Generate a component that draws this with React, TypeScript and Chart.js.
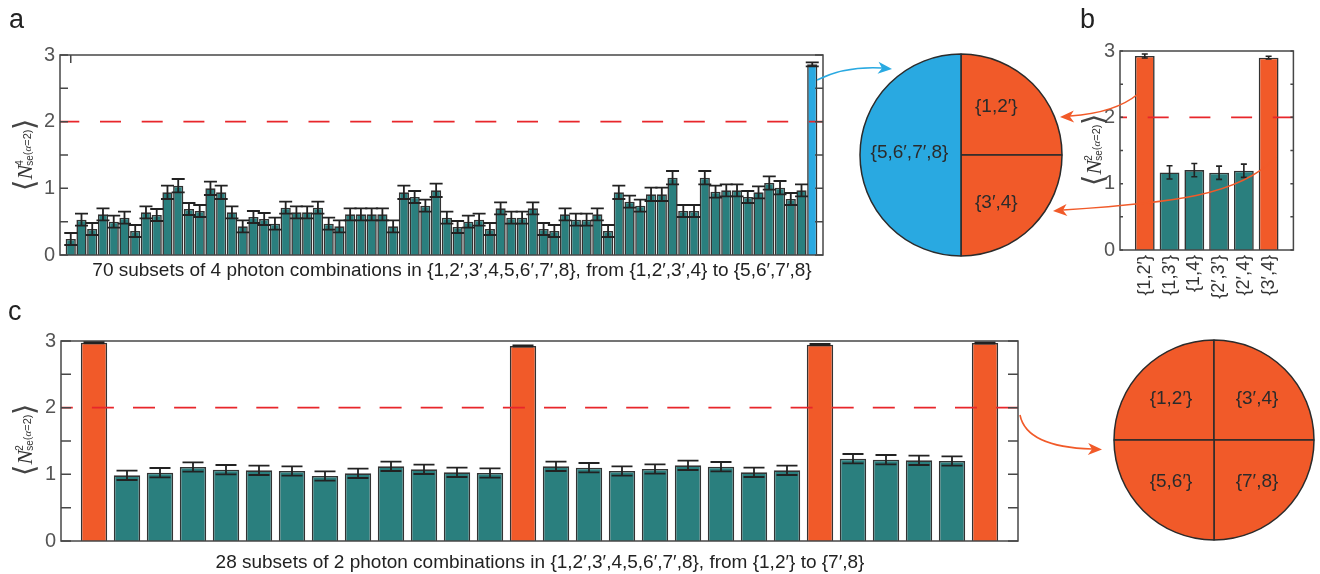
import React, { useEffect, useRef } from 'react';
import { Chart, registerables } from 'chart.js';
Chart.register(...registerables);

// ---------------- DATA ----------------
const PHOTONS = ['1', '2′', '3′', '4', '5', '6′', '7′', '8'];

function combos(k: number): string[] {
  const out: string[] = [];
  const rec = (start: number, acc: string[]) => {
    if (acc.length === k) { out.push('{' + acc.join(',') + '}'); return; }
    for (let i = start; i < PHOTONS.length; i++) rec(i + 1, [...acc, PHOTONS[i]]);
  };
  rec(0, []);
  return out;
}

// Panel a: 70 subsets of 4 photons
const A_LABELS = combos(4);
const A_VALUES = [
  0.24, 0.53, 0.39, 0.61, 0.50, 0.56, 0.36, 0.64, 0.60, 0.94,
  1.04, 0.69, 0.66, 1.00, 0.94, 0.64, 0.43, 0.57, 0.54, 0.47,
  0.71, 0.64, 0.64, 0.71, 0.47, 0.43, 0.61, 0.61, 0.61, 0.61,
  0.43, 0.94, 0.87, 0.74, 0.97, 0.56, 0.42, 0.50, 0.53, 0.39,
  0.70, 0.56, 0.56, 0.70, 0.39, 0.36, 0.61, 0.53, 0.53, 0.61,
  0.36, 0.94, 0.80, 0.74, 0.91, 0.91, 1.16, 0.66, 0.66, 1.16,
  0.95, 0.97, 0.97, 0.87, 0.94, 1.08, 1.01, 0.84, 0.97, 2.86,
];
const A_ERRORS = [
  0.09, 0.09, 0.09, 0.09, 0.09, 0.09, 0.09, 0.09, 0.09, 0.10,
  0.10, 0.09, 0.09, 0.10, 0.10, 0.09, 0.09, 0.09, 0.09, 0.09,
  0.09, 0.09, 0.09, 0.09, 0.09, 0.09, 0.09, 0.09, 0.09, 0.09,
  0.09, 0.10, 0.09, 0.09, 0.10, 0.09, 0.09, 0.09, 0.09, 0.09,
  0.09, 0.09, 0.09, 0.09, 0.09, 0.09, 0.09, 0.09, 0.09, 0.09,
  0.09, 0.10, 0.09, 0.09, 0.10, 0.10, 0.10, 0.09, 0.09, 0.10,
  0.09, 0.09, 0.09, 0.09, 0.09, 0.10, 0.10, 0.09, 0.09, 0.03,
];
const A_HIGHLIGHT = [69];

// Panel b
const B_LABELS = ['{1,2′}', '{1,3′}', '{1,4}', '{2′,3′}', '{2′,4}', '{3′,4}'];
const B_VALUES = [2.925, 1.17, 1.205, 1.165, 1.195, 2.90];
const B_ERRORS = [0.03, 0.10, 0.10, 0.10, 0.10, 0.02];
const B_HIGHLIGHT = [0, 5];

// Panel c: 28 subsets of 2 photons
const C_LABELS = combos(2);
const C_VALUES = [
  2.975, 0.985, 1.025, 1.11, 1.07, 1.06, 1.05, 0.975, 1.015, 1.12,
  1.075, 1.03, 1.02, 2.925, 1.12, 1.10, 1.05, 1.08, 1.135, 1.115,
  1.03, 1.06, 2.945, 1.235, 1.22, 1.21, 1.20, 2.97,
];
const C_ERRORS = [
  0.01, 0.07, 0.07, 0.07, 0.07, 0.07, 0.07, 0.07, 0.07, 0.07,
  0.07, 0.07, 0.07, 0.01, 0.07, 0.07, 0.07, 0.07, 0.07, 0.07,
  0.07, 0.07, 0.01, 0.07, 0.07, 0.07, 0.07, 0.01,
];
const C_HIGHLIGHT = [0, 13, 22, 27];

// Partition diagrams (photon counts per block)
const PIE1_LABELS = ['{1,2′}', '{3′,4}', '{5,6′,7′,8}'];
const PIE1_VALUES = [2, 2, 4];
const PIE2_LABELS = ['{1,2′}', '{3′,4}', '{7′,8}', '{5,6′}'];
const PIE2_VALUES = [2, 2, 2, 2];

const Y_TICKS = [0, 1, 2, 3];
const THRESHOLD = 2;

// ---------------- STYLE ----------------
const TEAL = '#2A7F7E';
const ORANGE = '#F15A29';
const BLUE = '#29A9E1';
const FONT = '"Liberation Sans", Arial, Helvetica, sans-serif';

const decorPlugin = {
  id: 'decor',
  afterDatasetsDraw(chart: any, _a: any, opts: any) {
    const { ctx, chartArea: ca, scales } = chart;
    const y = scales.y;
    // reference dashed line
    ctx.save();
    ctx.beginPath();
    ctx.rect(ca.left, ca.top, ca.right - ca.left, ca.bottom - ca.top);
    ctx.clip();
    ctx.strokeStyle = '#E8262B';
    ctx.lineWidth = 1.6;
    ctx.setLineDash(opts.dash);
    ctx.lineDashOffset = opts.dashOffset;
    const yy = y.getPixelForValue(THRESHOLD);
    ctx.beginPath();
    ctx.moveTo(ca.left, yy);
    ctx.lineTo(ca.right, yy);
    ctx.stroke();
    ctx.restore();
    // error bars
    const ds = chart.data.datasets[0];
    const meta = chart.getDatasetMeta(0);
    ctx.save();
    ctx.strokeStyle = '#222';
    ctx.lineWidth = opts.errWidth;
    const cw = opts.capWidth;
    meta.data.forEach((bar: any, i: number) => {
      const v = ds.data[i];
      const e = ds.errors[i];
      if (v == null || e == null) return;
      const x = bar.x;
      const t = y.getPixelForValue(v + e);
      const b = y.getPixelForValue(v - e);
      ctx.beginPath();
      ctx.moveTo(x, t); ctx.lineTo(x, b);
      ctx.moveTo(x - cw / 2, t); ctx.lineTo(x + cw / 2, t);
      ctx.moveTo(x - cw / 2, b); ctx.lineTo(x + cw / 2, b);
      ctx.stroke();
    });
    ctx.restore();
  },
  afterDraw(chart: any, _a: any, opts: any) {
    const { ctx, chartArea: ca, scales } = chart;
    const y = scales.y;
    const x = scales.x;
    ctx.save();
    ctx.strokeStyle = '#474747';
    ctx.lineWidth = 1.5;
    ctx.strokeRect(ca.left, ca.top, ca.right - ca.left, ca.bottom - ca.top);
    ctx.beginPath();
    y.ticks.forEach((t: any) => {
      const py = y.getPixelForValue(t.value);
      ctx.moveTo(ca.left, py); ctx.lineTo(ca.left + opts.tickLen, py);
      ctx.moveTo(ca.right, py); ctx.lineTo(ca.right - opts.tickLen, py);
    });
    (opts.topTicks || []).forEach((idx: number) => {
      const px = x.getPixelForValue(idx);
      ctx.moveTo(px, ca.top); ctx.lineTo(px, ca.top + opts.tickLen);
    });
    ctx.stroke();
    ctx.restore();
  },
};

const pieLabelPlugin = {
  id: 'pieLabels',
  afterDatasetsDraw(chart: any, _a: any, opts: any) {
    const { ctx } = chart;
    const meta = chart.getDatasetMeta(0);
    ctx.save();
    ctx.fillStyle = '#2b2b2b';
    ctx.font = `19px ${FONT}`;
    ctx.textAlign = 'center';
    ctx.textBaseline = 'middle';
    meta.data.forEach((arc: any, i: number) => {
      const p = arc.getProps(['x', 'y', 'outerRadius'], true);
      const [dx, dy] = opts.offsets[i];
      ctx.fillText(chart.data.labels[i], p.x + dx * p.outerRadius, p.y + dy * p.outerRadius);
    });
    ctx.restore();
  },
};

type BarSpec = {
  labels: string[];
  values: number[];
  errors: number[];
  highlight: number[];
  hiColor: string;
  width: number;
  height: number;
  padTop: number;
  padRight: number;
  yWidth: number;
  xHeight: number;
  barPct: number;
  showX: boolean;
  decor: any;
};

function BarPanel({ spec, left, top }: { spec: BarSpec; left: number; top: number }) {
  const ref = useRef<HTMLCanvasElement | null>(null);
  useEffect(() => {
    if (!ref.current) return;
    const colors = spec.values.map((_, i) => (spec.highlight.includes(i) ? spec.hiColor : TEAL));
    const chart = new Chart(ref.current, {
      type: 'bar',
      data: {
        labels: ['', ...spec.labels, ''],
        datasets: [
          {
            data: [null, ...spec.values, null],
            errors: [null, ...spec.errors, null],
            backgroundColor: ['#0000', ...colors, '#0000'],
            borderColor: '#333',
            borderWidth: 1.6,
            categoryPercentage: 1,
            barPercentage: spec.barPct,
          } as any,
        ],
      },
      options: {
        animation: false,
        responsive: false,
        maintainAspectRatio: false,
        layout: { padding: { top: spec.padTop, right: spec.padRight, left: 0, bottom: 0 } },
        plugins: { legend: { display: false }, decor: spec.decor } as any,
        scales: {
          x: {
            type: 'category',
            offset: false,
            grid: { display: false, drawTicks: false },
            border: { display: false },
            ticks: {
              display: spec.showX,
              autoSkip: false,
              minRotation: 90,
              maxRotation: 90,
              padding: 5,
              color: '#333',
              font: { family: FONT, size: 18 },
            },
            afterFit: (s: any) => { s.height = spec.xHeight; },
          },
          y: {
            min: 0,
            max: 3,
            grid: { display: false, drawTicks: false },
            border: { display: false },
            ticks: {
              stepSize: 0.5,
              padding: 5,
              color: '#555',
              font: { family: FONT, size: 20 },
              callback: (v: any) => (Y_TICKS.includes(Number(v)) ? String(v) : ''),
            },
            afterFit: (s: any) => { s.width = spec.yWidth; },
          },
        },
      } as any,
      plugins: [decorPlugin],
    });
    return () => chart.destroy();
  }, []);
  return (
    <canvas
      ref={ref}
      width={spec.width}
      height={spec.height}
      style={{ position: 'absolute', left, top, width: spec.width, height: spec.height }}
    />
  );
}

function PiePanel({ labels, values, colors, rotation, radius, offsets, cx, cy }: any) {
  const ref = useRef<HTMLCanvasElement | null>(null);
  const size = 2 * radius + 20;
  useEffect(() => {
    if (!ref.current) return;
    const chart = new Chart(ref.current, {
      type: 'pie',
      data: {
        labels,
        datasets: [
          {
            data: values,
            backgroundColor: colors,
            borderColor: '#2b2b2b',
            borderWidth: 1.5,
            hoverOffset: 0,
            radius,
            rotation,
          } as any,
        ],
      },
      options: {
        animation: false,
        responsive: false,
        maintainAspectRatio: false,
        radius,
        rotation,
        layout: { padding: 0 },
        plugins: { legend: { display: false }, tooltip: { enabled: false }, pieLabels: { offsets } } as any,
      } as any,
      plugins: [pieLabelPlugin],
    });
    return () => chart.destroy();
  }, []);
  return (
    <canvas
      ref={ref}
      width={size}
      height={size}
      style={{ position: 'absolute', left: cx - size / 2, top: cy - size / 2, width: size, height: size }}
    />
  );
}

const BRACKET: React.CSSProperties = {
  fontFamily: '"DejaVu Sans ExtraLight", "DejaVu Sans", sans-serif',
  fontWeight: 200,
  fontSize: 29,
  color: '#444',
};

function YTitle({ cx, cy, sup }: { cx: number; cy: number; sup: string }) {
  return (
    <div
      style={{
        position: 'absolute',
        left: cx,
        top: cy,
        transform: 'translate(-50%, -50%) rotate(-90deg)',
        whiteSpace: 'nowrap',
        color: '#333',
        fontFamily: FONT,
        display: 'flex',
        alignItems: 'center',
        lineHeight: 1,
      }}
    >
      <span style={BRACKET}>⟨</span>
      <span style={{ fontFamily: '"Liberation Serif", serif', fontStyle: 'italic', fontSize: 22, marginLeft: 1 }}>N</span>
      <span style={{ display: 'inline-flex', flexDirection: 'column', fontSize: 10, lineHeight: '10px', marginLeft: -1 }}>
        <span>{sup}</span>
        <span>se</span>
      </span>
      <span style={{ fontSize: 11, position: 'relative', top: 3 }}>
        (<i style={{ fontFamily: '"Liberation Serif", serif' }}>α</i>=2)
      </span>
      <span style={BRACKET}>⟩</span>
    </div>
  );
}

function arrowHead(tx: number, ty: number, angDeg: number, color: string) {
  const a = (angDeg * Math.PI) / 180;
  const dx = Math.cos(a), dy = Math.sin(a);
  const nx = -dy, ny = dx;
  const L = 14, W = 6, N = 10;
  const pts = [
    [tx, ty],
    [tx - L * dx + W * nx, ty - L * dy + W * ny],
    [tx - N * dx, ty - N * dy],
    [tx - L * dx - W * nx, ty - L * dy - W * ny],
  ];
  return <polygon points={pts.map((p) => p.join(',')).join(' ')} fill={color} />;
}

const PANEL_A: BarSpec = {
  labels: A_LABELS, values: A_VALUES, errors: A_ERRORS, highlight: A_HIGHLIGHT, hiColor: BLUE,
  width: 850, height: 290, padTop: 55, padRight: 27, yWidth: 60, xHeight: 35, barPct: 0.95, showX: false,
  decor: { dash: [21, 20.7], dashOffset: 1.7, errWidth: 1.8, capWidth: 13, tickLen: 8, topTicks: [1] },
};
const PANEL_B: BarSpec = {
  labels: B_LABELS, values: B_VALUES, errors: B_ERRORS, highlight: B_HIGHLIGHT, hiColor: ORANGE,
  width: 240, height: 310, padTop: 51, padRight: 8, yWidth: 40, xHeight: 60, barPct: 0.8, showX: true,
  decor: { dash: [21, 20.7], dashOffset: 14, errWidth: 1.6, capWidth: 6, tickLen: 3 },
};
const PANEL_C: BarSpec = {
  labels: C_LABELS, values: C_VALUES, errors: C_ERRORS, highlight: C_HIGHLIGHT, hiColor: ORANGE,
  width: 1030, height: 284, padTop: 51, padRight: 12, yWidth: 61, xHeight: 33, barPct: 0.8, showX: false,
  decor: { dash: [22, 19.1], dashOffset: 10.2, errWidth: 1.8, capWidth: 21, tickLen: 10 },
};

const letterStyle: React.CSSProperties = {
  position: 'absolute', fontFamily: FONT, fontSize: 27, color: '#222', lineHeight: 1,
};
const xTitleStyle: React.CSSProperties = {
  position: 'absolute', fontFamily: FONT, fontSize: 19, color: '#222', width: 1000,
  textAlign: 'center', lineHeight: '22px', whiteSpace: 'nowrap',
};

export default function App() {
  return (
    <div style={{ position: 'fixed', left: 0, top: 0, width: 1320, height: 574, background: '#fff', overflow: 'hidden' }}>
      <BarPanel spec={PANEL_A} left={0} top={0} />
      <BarPanel spec={PANEL_B} left={1080} top={0} />
      <BarPanel spec={PANEL_C} left={0} top={290} />
      <PiePanel labels={PIE1_LABELS} values={PIE1_VALUES} colors={[ORANGE, ORANGE, BLUE]} rotation={0}
        radius={101} cx={960.5} cy={155} offsets={[[0.35, -0.48], [0.35, 0.47], [-0.51, -0.02]]} />
      <PiePanel labels={PIE2_LABELS} values={PIE2_VALUES} colors={[ORANGE, ORANGE, ORANGE, ORANGE]} rotation={-90}
        radius={100} cx={1214} cy={440} offsets={[[-0.43, -0.415], [0.43, -0.415], [0.43, 0.415], [-0.43, 0.415]]} />

      <div style={{ ...letterStyle, left: 9, top: 6 }}>a</div>
      <div style={{ ...letterStyle, left: 1080, top: 6 }}>b</div>
      <div style={{ ...letterStyle, left: 8, top: 298 }}>c</div>

      <YTitle cx={24} cy={155} sup="4" />
      <YTitle cx={1093} cy={150} sup="2" />
      <YTitle cx={24} cy={440} sup="2" />

      <div style={{ ...xTitleStyle, left: 452 - 500, top: 259 }}>
        70 subsets of 4 photon combinations in {'{1,2′,3′,4,5,6′,7′,8}'}, from {'{1,2′,3′,4}'} to {'{5,6′,7′,8}'}
      </div>
      <div style={{ ...xTitleStyle, left: 540 - 500, top: 551 }}>
        28 subsets of 2 photon combinations in {'{1,2′,3′,4,5,6′,7′,8}'}, from {'{1,2′}'} to {'{7′,8}'}
      </div>

      <svg width={1320} height={574} style={{ position: 'absolute', left: 0, top: 0, pointerEvents: 'none' }}>
        <path d="M 817 80 Q 845 66 882 68" stroke={BLUE} strokeWidth={1.6} fill="none" />
        {arrowHead(892, 69, 5, BLUE)}
        <path d="M 1138 94 Q 1115 113 1070 116" stroke={ORANGE} strokeWidth={1.6} fill="none" />
        {arrowHead(1060, 117, 178, ORANGE)}
        <path d="M 1276 157 C 1240 196 1170 203 1063 210" stroke={ORANGE} strokeWidth={1.6} fill="none" />
        {arrowHead(1053, 211, 176, ORANGE)}
        <path d="M 1020 415 C 1025 440 1058 448 1092 449" stroke={ORANGE} strokeWidth={1.6} fill="none" />
        {arrowHead(1102, 449.5, 2, ORANGE)}
      </svg>
    </div>
  );
}
